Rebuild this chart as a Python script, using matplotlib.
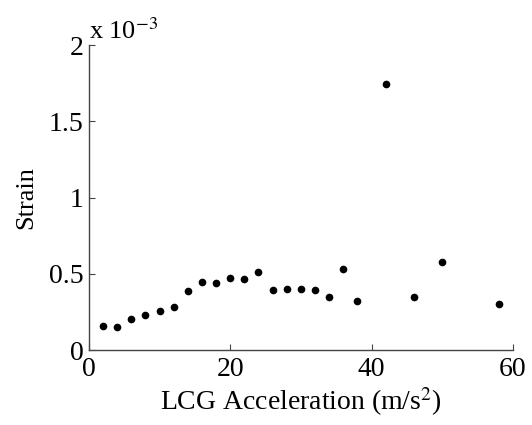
import matplotlib
matplotlib.use('Agg')
import matplotlib.pyplot as plt

plt.rcParams['font.family'] = ['Liberation Serif', 'DejaVu Serif']
plt.rcParams['mathtext.fontset'] = 'stix'

# LCG acceleration (m/s^2) vs strain (x 1e-3)
accel = [2, 4, 6, 8, 10, 12, 14, 16, 18, 20, 22, 24, 26, 28, 30, 32, 34, 36, 38, 42, 46, 50, 58]
strain = [0.159, 0.153, 0.205, 0.228, 0.256, 0.284, 0.387, 0.450, 0.439, 0.474, 0.468, 0.510,
          0.393, 0.398, 0.398, 0.393, 0.348, 0.533, 0.321, 1.744, 0.348, 0.577, 0.300]

fig = plt.figure(figsize=(5.32, 4.25), dpi=100)
ax = fig.add_axes([0.167, 0.176, 0.797, 0.718])

ax.plot(accel, strain, 'o', color='black', markersize=4.5, linestyle='none')

ax.set_xlim(0, 60)
ax.set_ylim(0, 2)
ax.set_xticks([0, 20, 40, 60])
ax.set_yticks([0, 0.5, 1, 1.5, 2])
ax.set_yticklabels(['0', '0.5', '1', '1.5', '2'])

for s in ['top', 'right']:
    ax.spines[s].set_visible(False)
for s in ['left', 'bottom']:
    ax.spines[s].set_color('#444444')
    ax.spines[s].set_linewidth(1.0)

ax.tick_params(direction='in', length=4, width=0.8, color='#444444', labelsize=20)
ax.tick_params(axis='y', pad=4)
ax.tick_params(axis='x', pad=5)

ax.set_xlabel('LCG Acceleration (m/s$^2$)', fontsize=20, labelpad=2)
ax.set_ylabel('Strain', fontsize=19, labelpad=8)
ax.text(0.0, 1.005, r'x 10$^{-3}$', transform=ax.transAxes, fontsize=19, ha='left', va='bottom')

fig.savefig('out.png', dpi=100)
